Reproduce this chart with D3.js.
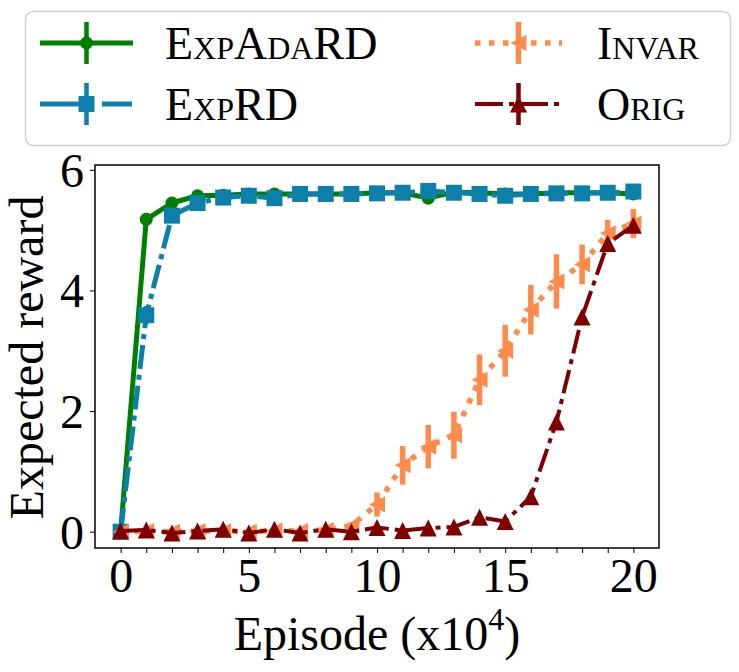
<!DOCTYPE html>
<html>
<head>
<meta charset="utf-8">
<script src="https://cdn.jsdelivr.net/npm/d3@7"></script>
<style>
  html, body { margin: 0; padding: 0; background: #fff; }
  svg { display: block; font-family: "Liberation Serif", "DejaVu Serif", serif; }
</style>
</head>
<body>
<svg id="chart" width="739" height="672"></svg>
<script>
// episodes (x10^4)
const episodes = [0, 1, 2, 3, 4, 5, 6, 7, 8, 9, 10, 11, 12, 13, 14, 15, 16, 17, 18, 19, 20];

const expAdaRD = [0, 5.18, 5.45, 5.57, 5.58, 5.6, 5.6, 5.6, 5.6, 5.6, 5.62, 5.62, 5.53, 5.63, 5.62, 5.6, 5.6, 5.62, 5.62, 5.62, 5.6];
const expAdaRDErr = [0.02, 0.1, 0.08, 0.08, 0.07, 0.06, 0.06, 0.06, 0.06, 0.06, 0.06, 0.06, 0.08, 0.06, 0.07, 0.06, 0.06, 0.06, 0.06, 0.06, 0.06];

const expRD = [0, 3.59, 5.24, 5.45, 5.54, 5.57, 5.53, 5.6, 5.6, 5.6, 5.61, 5.62, 5.65, 5.62, 5.6, 5.57, 5.6, 5.61, 5.61, 5.62, 5.64];
const expRDErr = [0.02, 0.15, 0.1, 0.08, 0.07, 0.06, 0.06, 0.06, 0.06, 0.06, 0.06, 0.06, 0.06, 0.06, 0.06, 0.06, 0.06, 0.06, 0.06, 0.06, 0.06];

const invar = [0, 0.01, 0, 0.01, 0.01, 0, 0.02, 0.01, 0.03, 0.1, 0.45, 1.1, 1.41, 1.6, 2.52, 3.0, 3.68, 4.15, 4.43, 4.95, 5.11];
const invarErr = [0.02, 0.02, 0.02, 0.02, 0.02, 0.02, 0.02, 0.02, 0.03, 0.06, 0.2, 0.32, 0.36, 0.39, 0.42, 0.43, 0.41, 0.45, 0.33, 0.22, 0.24];

const orig = [0.01, 0.03, -0.02, 0.01, 0.04, -0.02, 0.04, -0.02, 0.04, 0, 0.07, 0.02, 0.06, 0.08, 0.24, 0.17, 0.58, 1.82, 3.56, 4.78, 5.08];
const origErr = [0.02, 0.02, 0.02, 0.02, 0.02, 0.02, 0.02, 0.02, 0.02, 0.02, 0.03, 0.02, 0.03, 0.03, 0.04, 0.04, 0.05, 0.06, 0.06, 0.05, 0.05];

const seriesNames = ["ExpAdaRD", "ExpRD", "Invar", "Orig"];
const xTickLabels = [0, 5, 10, 15, 20];
const yTickLabels = [0, 2, 4, 6];

const styles = {
  ExpAdaRD: { color: "#008000", dash: null, marker: "circle", ms: 13, lw: 5, ew: 4.5 },
  ExpRD:    { color: "#0c80ab", dash: "24,6,5,6", marker: "square", ms: 16, lw: 5, ew: 4.5 },
  Invar:    { color: "#ff8a4b", dash: "5.5,8.5", marker: "tleft", ms: 16, lw: 5.5, ew: 5.5 },
  Orig:     { color: "#800000", dash: "24,6,5,6", marker: "tup", ms: 17, lw: 4, ew: 4.5 }
};
const seriesData = {
  ExpAdaRD: [expAdaRD, expAdaRDErr],
  ExpRD: [expRD, expRDErr],
  Invar: [invar, invarErr],
  Orig: [orig, origErr]
};

const svg = d3.select("#chart");
const plot = { left: 95, right: 659, top: 165, bottom: 548 };

const x = d3.scaleLinear().domain([-1, 21]).range([plot.left, plot.right]);
const y = d3.scaleLinear().domain([-0.27, 6.08]).range([plot.bottom, plot.top]);

function markerPath(type, s) {
  const h = s / 2;
  if (type === "tup") return `M0,${-h} L${h},${h} L${-h},${h} Z`;
  if (type === "tleft") return `M${-h},0 L${h},${-h} L${h},${h} Z`;
  if (type === "square") return `M${-h},${-h} H${h} V${h} H${-h} Z`;
  return d3.symbol(d3.symbolCircle, Math.PI * h * h)();
}

svg.append("clipPath").attr("id", "clip")
  .append("rect")
  .attr("x", plot.left).attr("y", plot.top)
  .attr("width", plot.right - plot.left).attr("height", plot.bottom - plot.top);

// axes
const xAxis = d3.axisBottom(x).tickValues(episodes).tickSize(5).tickPadding(4)
  .tickFormat(d => xTickLabels.includes(d) ? d : "");
const gx = svg.append("g").attr("transform", `translate(0,${plot.bottom})`).call(xAxis);
gx.select(".domain").remove();
gx.selectAll("line").attr("stroke", "#000").attr("stroke-width", 1);
gx.selectAll("text").attr("font-size", 48).attr("fill", "#000")
  .attr("font-family", "Liberation Serif").attr("dy", "0.72em");

const yAxis = d3.axisLeft(y).tickValues(yTickLabels).tickSize(5).tickPadding(6)
  .tickFormat(d3.format("d"));
const gy = svg.append("g").attr("transform", `translate(${plot.left},0)`).call(yAxis);
gy.select(".domain").remove();
gy.selectAll("line").attr("stroke", "#000").attr("stroke-width", 1);
gy.selectAll("text").attr("font-size", 48).attr("fill", "#000")
  .attr("font-family", "Liberation Serif").attr("dy", "0.34em");

// series
const lineGen = d3.line().x((d, i) => x(episodes[i])).y(d => y(d));
const plotG = svg.append("g").attr("clip-path", "url(#clip)");

seriesNames.forEach(name => {
  const st = styles[name];
  const [vals, errs] = seriesData[name];
  const g = plotG.append("g");
  g.append("path")
    .attr("d", lineGen(vals))
    .attr("fill", "none")
    .attr("stroke", st.color)
    .attr("stroke-width", st.lw)
    .attr("stroke-dasharray", st.dash)
    .attr("stroke-linejoin", "round");
  g.selectAll("line.err").data(vals).join("line")
    .attr("class", "err")
    .attr("x1", (d, i) => x(episodes[i])).attr("x2", (d, i) => x(episodes[i]))
    .attr("y1", (d, i) => y(d - errs[i])).attr("y2", (d, i) => y(d + errs[i]))
    .attr("stroke", st.color).attr("stroke-width", st.ew);
  g.selectAll("path.mk").data(vals).join("path")
    .attr("class", "mk")
    .attr("d", markerPath(st.marker, st.ms))
    .attr("transform", (d, i) => `translate(${x(episodes[i])},${y(d)})`)
    .attr("fill", st.color);
});

// frame
svg.append("rect")
  .attr("x", plot.left).attr("y", plot.top)
  .attr("width", plot.right - plot.left).attr("height", plot.bottom - plot.top)
  .attr("fill", "none").attr("stroke", "#000").attr("stroke-width", 1.5);

// axis labels
svg.append("text")
  .attr("transform", `translate(43,${(plot.top + plot.bottom) / 2 + 1}) rotate(-90)`)
  .attr("text-anchor", "middle")
  .attr("font-size", 48)
  .text("Expected reward");

const xl = svg.append("text")
  .attr("x", (plot.left + plot.right) / 2).attr("y", 650)
  .attr("text-anchor", "middle")
  .attr("font-size", 48);
xl.append("tspan").text("Episode (x10");
xl.append("tspan").attr("font-size", 32).attr("dy", -20).text("4");
xl.append("tspan").attr("dy", 20).text(")");

// legend
const legend = svg.append("g");
legend.append("rect")
  .attr("x", 25.5).attr("y", 11.5).attr("width", 705).attr("height", 134)
  .attr("rx", 8).attr("fill", "#fff").attr("fill-opacity", 0.8)
  .attr("stroke", "#d0d0d0").attr("stroke-width", 1.5);

const legendPos = [
  { x0: 40, x1: 133, cy: 43, tx: 165 },
  { x0: 40, x1: 133, cy: 104, tx: 165 },
  { x0: 475, x1: 562, cy: 43, tx: 597 },
  { x0: 475, x1: 562, cy: 104, tx: 597 }
];
const legendDash = { ExpAdaRD: null, ExpRD: "52,10,30", Invar: "5.5,8.5", Orig: "28,6,5,6" };

seriesNames.forEach((name, i) => {
  const st = styles[name];
  const p = legendPos[i];
  const cx = (p.x0 + p.x1) / 2;
  const item = legend.append("g");
  item.append("line")
    .attr("x1", p.x0).attr("x2", p.x1).attr("y1", p.cy).attr("y2", p.cy)
    .attr("stroke", st.color).attr("stroke-width", st.lw)
    .attr("stroke-dasharray", legendDash[name]);
  item.append("line")
    .attr("x1", cx).attr("x2", cx).attr("y1", p.cy - 21).attr("y2", p.cy + 21)
    .attr("stroke", st.color).attr("stroke-width", st.ew);
  item.append("path")
    .attr("d", markerPath(st.marker, st.ms))
    .attr("transform", `translate(${cx},${p.cy})`)
    .attr("fill", st.color);
  item.append("text")
    .attr("x", p.tx).attr("y", p.cy + 16)
    .attr("font-size", 46)
    .style("font-variant", "small-caps")
    .text(name);
});
</script>
</body>
</html>
